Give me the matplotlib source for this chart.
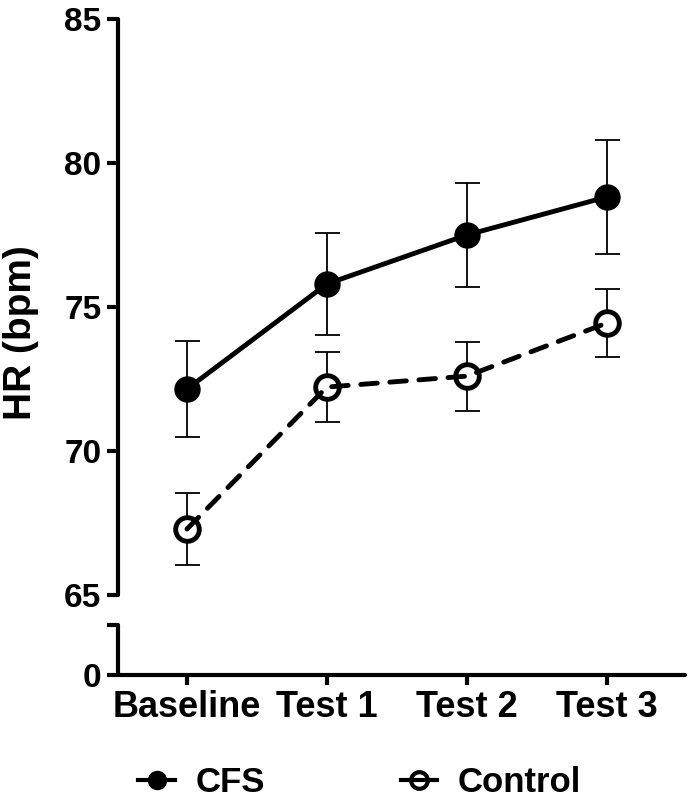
import matplotlib
matplotlib.use("Agg")
import matplotlib.pyplot as plt
from matplotlib.lines import Line2D

plt.rcParams['font.family'] = ['Liberation Sans', 'DejaVu Sans']
plt.rcParams['font.weight'] = 'bold'

# data
timepoints = ['Baseline', 'Test 1', 'Test 2', 'Test 3']
cfs_mean = [72.15, 75.8, 77.5, 78.82]
cfs_sem = [1.67, 1.77, 1.8, 1.97]
ctrl_mean = [67.29, 72.22, 72.6, 74.44]
ctrl_sem = [1.25, 1.21, 1.2, 1.17]
y_ticks = [65, 70, 75, 80, 85]

W, H = 692, 802
fig = plt.figure(figsize=(W / 100, H / 100), dpi=100)

left = 118 / W
right = 685 / W
ax = fig.add_axes([left, (H - 595) / H, right - left, 576 / H])
axb = fig.add_axes([left, (H - 675) / H, right - left, 50 / H], sharex=ax)

x = list(range(len(timepoints)))
lw_axis = 3
lw_data = 3.5

# CFS: filled circles, solid line
ax.errorbar(x, cfs_mean, yerr=cfs_sem, fmt='none', ecolor='black',
            elinewidth=1.3, capsize=9, capthick=1.3, zorder=1)
ax.plot(x, cfs_mean, color='black', lw=lw_data, marker='o', markersize=18,
        markerfacecolor='black', zorder=3, clip_on=False)

# Control: open circles, dashed line
ax.errorbar(x, ctrl_mean, yerr=ctrl_sem, fmt='none', ecolor='black',
            elinewidth=1.3, capsize=9, capthick=1.3, zorder=1)
ax.plot(x, ctrl_mean, linestyle='none', marker='o', markersize=18,
        markerfacecolor='white', markeredgecolor='none', zorder=2)
ax.plot(x, ctrl_mean, color='black', lw=lw_data, dashes=(3.4, 2.6),
        dash_capstyle='round', marker='o', markersize=17,
        markerfacecolor='none', markeredgewidth=3.5,
        markeredgecolor='black', zorder=3, clip_on=False)

ax.set_xlim(-0.493, 3.56)
ax.set_ylim(65, 85)
ax.set_yticks(y_ticks)
for s in ['top', 'right', 'bottom']:
    ax.spines[s].set_visible(False)
ax.spines['left'].set_linewidth(lw_axis)
ax.spines['left'].set_capstyle('round')
ax.tick_params(axis='y', width=lw_axis, length=8, labelsize=24, pad=4)
ax.tick_params(axis='x', bottom=False, labelbottom=False)
ax.set_ylabel('HR (bpm)', fontsize=28, fontweight='bold')
ax.yaxis.set_label_coords(-0.14, 0.455)

axb.set_ylim(0, 1)
axb.set_yticks([0, 1])
axb.set_yticklabels(['0', ''])
for s in ['top', 'right']:
    axb.spines[s].set_visible(False)
for s in ['left', 'bottom']:
    axb.spines[s].set_linewidth(lw_axis)
    axb.spines[s].set_capstyle('round')
axb.set_xticks(x)
axb.set_xticklabels(timepoints)
axb.tick_params(axis='y', width=lw_axis, length=8, labelsize=24, pad=4)
axb.tick_params(axis='x', width=lw_axis, length=7, labelsize=26, pad=4)
axb.patch.set_visible(False)

handles = [
    Line2D([], [], color='black', lw=3, marker='o', markersize=13,
           markerfacecolor='black'),
    Line2D([], [], color='black', lw=3, marker='o', markersize=12,
           markerfacecolor='none', markeredgewidth=3),
]
fig.legend(handles, ['CFS', 'Control'], loc='center left',
           bbox_to_anchor=(0.18, 19 / H), ncol=2, frameon=False,
           fontsize=25, handlelength=1.05, handletextpad=0.6,
           columnspacing=3.9, borderaxespad=0)

fig.savefig('out.png', dpi=100)
